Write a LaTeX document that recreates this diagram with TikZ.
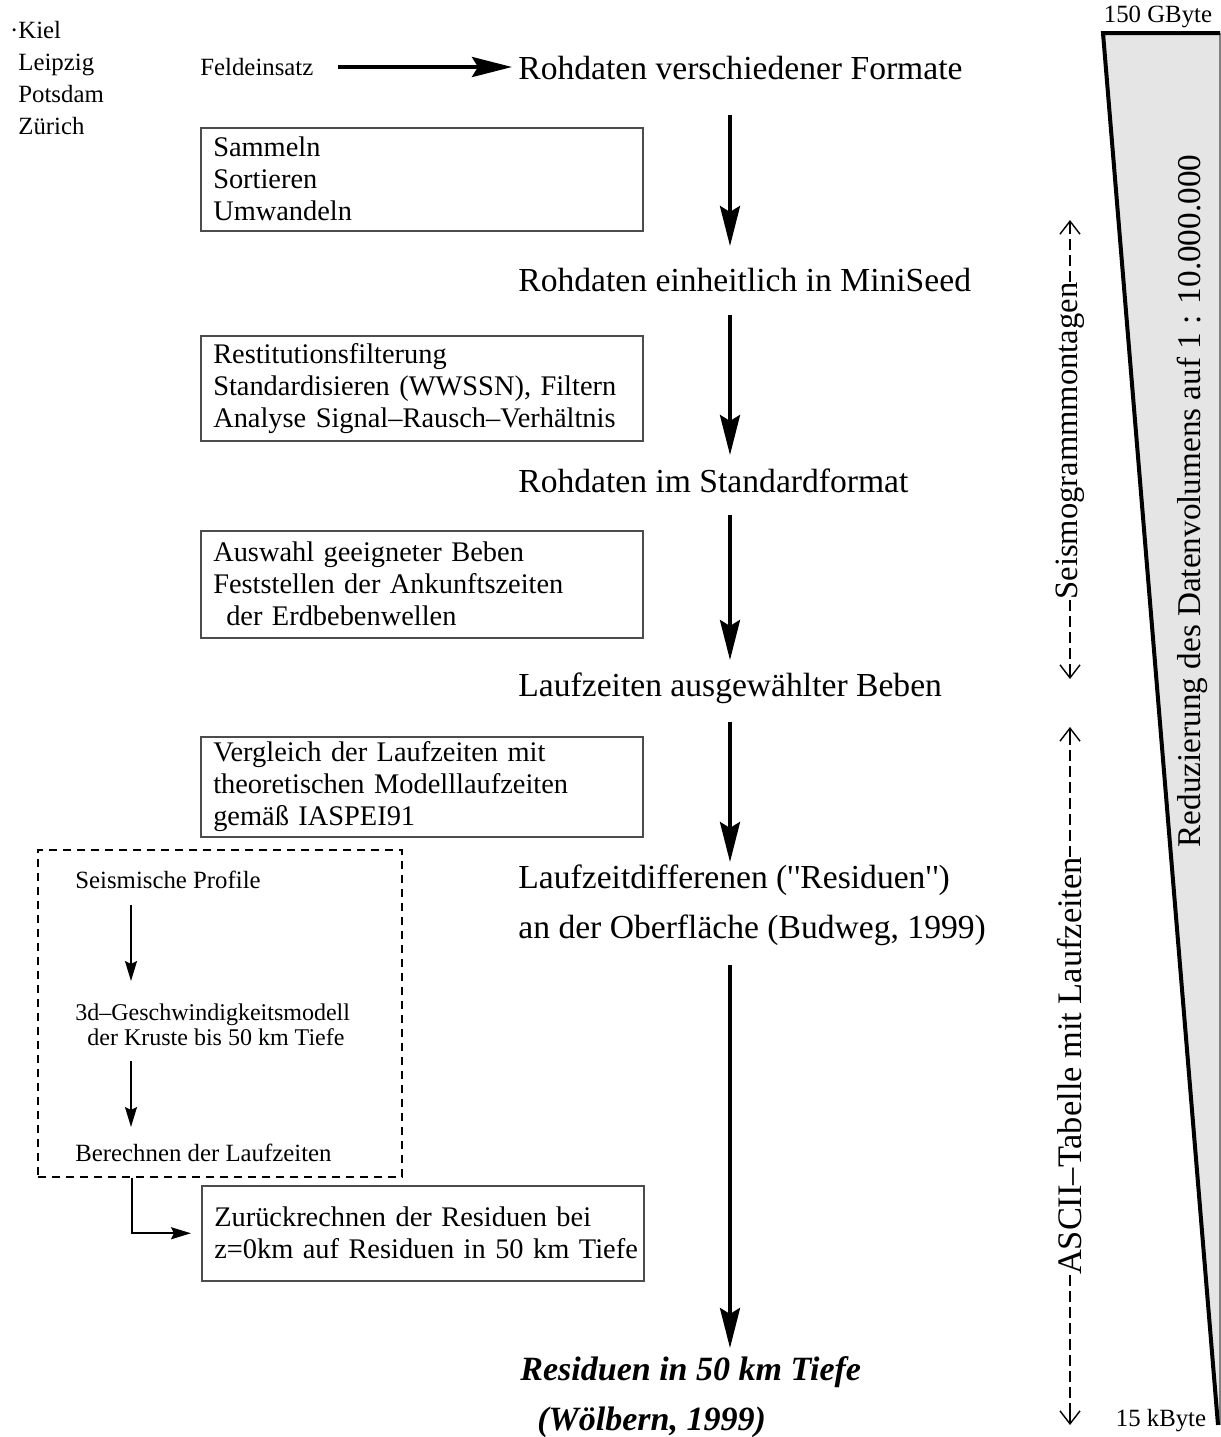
\documentclass[tikz,border=0pt]{standalone}
\usepackage{fontspec}
\setmainfont{Liberation Serif}
\newfontfamily\qfont{Liberation Serif}
\usetikzlibrary{arrows.meta}
\begin{document}
\begin{tikzpicture}[x=0.5pt,y=-0.5pt,
  bigtxt/.style={font=\fontsize{16.8}{25}\selectfont, anchor=west, inner sep=0pt, align=left},
  smalltxt/.style={font=\fontsize{12.4}{16}\selectfont, anchor=west, inner sep=0pt, align=left},
  stepbox/.style={draw=black!70, line width=0.75pt, font=\fontsize{14.2}{16}\selectfont, anchor=north west,
     minimum width=221pt, text width=208.5pt, inner xsep=6.25pt, inner ysep=0pt, align=left},
  bigarr/.style={line width=2pt, -{Stealth[length=20pt,width=10pt,inset=3pt]}},
  smallarr/.style={line width=1pt, -{Stealth[length=10pt,width=6pt,inset=1.5pt]}},
  dashbox/.style={draw, line width=1pt, dash pattern=on 4pt off 3pt, anchor=north west, inner sep=0pt},
  sidelbl/.style={font=\fontsize{16.8}{20}\selectfont, rotate=90, inner sep=0pt},
  sidedash/.style={line width=0.8pt, dash pattern=on 5.5pt off 2.5pt},
  chev/.style={line width=0.7pt, -{Straight Barb[length=6.5pt,width=10pt]}},
]
\useasboundingbox (0,0) rectangle (1221,1437);

% --- triangle (data volume)
\fill[black!10] (1103,33) -- (1220,33) -- (1219,1425) -- cycle;
\draw[black!50, line width=0.6pt] (1220,33) -- (1220,1425);
\draw[line width=2pt] (1220,33) -- (1103,33) -- (1218,1425);
\node[font=\fontsize{12.4}{14}\selectfont, inner sep=0pt] (gb) at (1158,17) {150 GByte};
\node[font=\fontsize{12.4}{14}\selectfont, inner sep=0pt] (kb) at (1161,1421) {15 kByte};
\node[sidelbl, font=\fontsize{16.6}{20}\selectfont] (red) at (1192,501) {Reduzierung des Datenvolumens auf 1 : 10.000.000};

% --- side labels
\node[sidelbl, font=\fontsize{16.3}{20}\selectfont] (seis) at (1070,441) {Seismogrammmontagen};
\coordinate (seisT) at (1070,220);
\coordinate (seisB) at (1070,679);
\draw[sidedash] (seis.east) -- ([yshift=-6.5pt]seisT);
\draw[chev] ([yshift=-6.5pt]seisT) -- (seisT);
\draw[sidedash] (seis.west) -- ([yshift=6.5pt]seisB);
\draw[chev] ([yshift=6.5pt]seisB) -- (seisB);

\node[sidelbl, font=\fontsize{17.2}{20}\selectfont] (ascii) at (1070,1066) {ASCII–Tabelle mit Laufzeiten};
\coordinate (asciiT) at (1070,727);
\coordinate (asciiB) at (1070,1425);
\draw[sidedash] (ascii.east) -- ([yshift=-6.5pt]asciiT);
\draw[chev] ([yshift=-6.5pt]asciiT) -- (asciiT);
\draw[sidedash] (ascii.west) -- ([yshift=6.5pt]asciiB);
\draw[chev] ([yshift=6.5pt]asciiB) -- (asciiB);

% --- station list and field work
\node[smalltxt] (sta) at (18,78) {\llap{·}Kiel\\Leipzig\\Potsdam\\Zürich};
\node[smalltxt] (feld) at (200,67) {Feldeinsatz};

% --- main column
\node[bigtxt] (r1) at (518,68) {Rohdaten verschiedener Formate};
\node[bigtxt] (r2) at (518,280) {Rohdaten einheitlich in MiniSeed};
\node[bigtxt] (r3) at (518,481) {Rohdaten im Standardformat};
\node[bigtxt] (r4) at (518,688) {Laufzeiten ausgewählter Beben};
\node[bigtxt] (r5) at (518,905) {Laufzeitdifferenen ({\qfont'\kern0.5pt'}Residuen{\qfont'\kern0.5pt'})\\an der Oberfläche (Budweg, 1999)};
\node[bigtxt, font=\fontsize{17}{25}\selectfont\bfseries\itshape] (r6) at (520,1397) {Residuen in 50 km Tiefe\\\hspace*{8.5pt}(Wölbern, 1999)};

\draw[bigarr, shorten <=12pt, shorten >=3pt] (feld.east) -- (feld.east -| r1.west);

\coordinate (a1s) at (730,115);  \coordinate (a1e) at (730,246);
\coordinate (a2s) at (730,315);  \coordinate (a2e) at (730,455);
\coordinate (a3s) at (730,515);  \coordinate (a3e) at (730,660);
\coordinate (a4s) at (730,722);  \coordinate (a4e) at (730,862);
\coordinate (a5s) at (730,965);  \coordinate (a5e) at (730,1348);
\draw[bigarr] (a1s) -- (a1e);
\draw[bigarr] (a2s) -- (a2e);
\draw[bigarr] (a3s) -- (a3e);
\draw[bigarr] (a4s) -- (a4e);
\draw[bigarr] (a5s) -- (a5e);

% --- processing boxes
\node[stepbox, minimum height=51.5pt] (b1) at (200,127) {Sammeln\\Sortieren\\Umwandeln};
\node[stepbox, minimum height=52.5pt] (b2) at (200,335) {Restitutionsfilterung\\Standardisieren~(WWSSN),~Filtern\\Analyse~Signal–Rausch–Verhältnis};
\node[stepbox, minimum height=53.5pt] (b3) at (200,530) {Auswahl geeigneter Beben\\Feststellen der Ankunftszeiten\\\hspace*{6.5pt}der Erdbebenwellen};
\node[stepbox, minimum height=50pt] (b4) at (200,736) {Vergleich der Laufzeiten mit\\theoretischen Modelllaufzeiten\\gemäß IASPEI91};
\node[stepbox, minimum height=47.5pt] (b5) at (201,1185) {Zurückrechnen~der~Residuen~bei\\z=0km~auf~Residuen~in~50~km~Tiefe};

% --- dashed box (crustal model)
\node[dashbox, minimum width=182pt, minimum height=163.5pt] (dbox) at (37,849) {};
\node[smalltxt] (sp) at (75,880) {Seismische Profile};
\node[smalltxt, font=\fontsize{12}{12.5}\selectfont] (gm) at (75,1025) {3d–Geschwindigkeitsmodell\\\hspace*{6pt}der Kruste bis 50 km Tiefe};
\node[smalltxt] (bl) at (75,1153) {Berechnen der Laufzeiten};
\coordinate (d1s) at (131,905);  \coordinate (d1e) at (131,981);
\coordinate (d2s) at (131,1061); \coordinate (d2e) at (131,1127);
\draw[smallarr] (d1s) -- (d1e);
\draw[smallarr] (d2s) -- (d2e);
\coordinate (lx) at (132,0);
\draw[smallarr, shorten >=5pt] (dbox.south -| lx) |- (b5.west);
\end{tikzpicture}
\end{document}
